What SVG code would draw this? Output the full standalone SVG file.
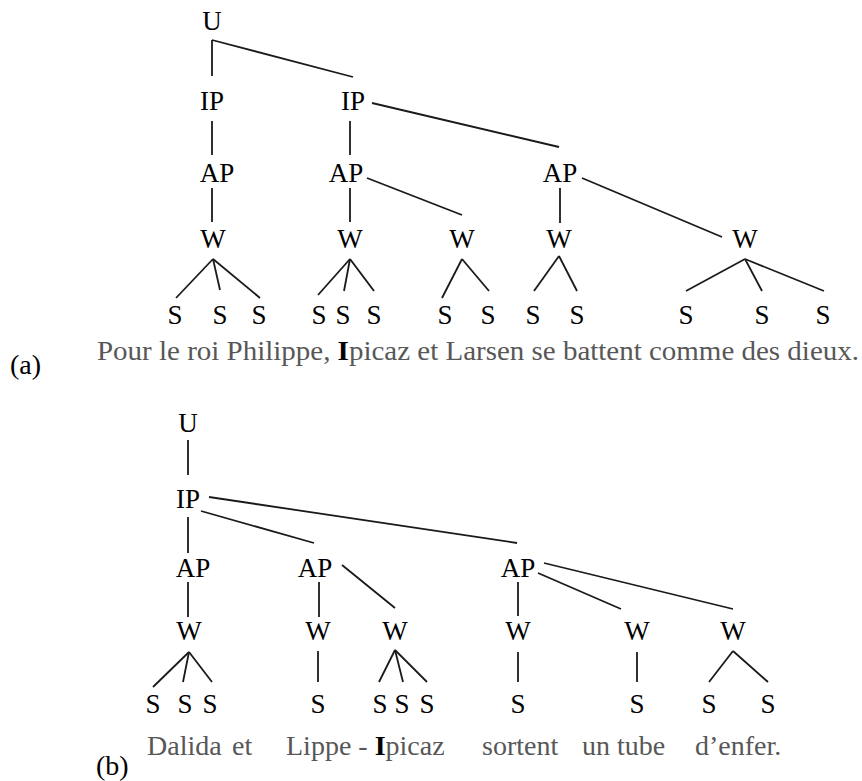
<svg xmlns="http://www.w3.org/2000/svg" width="862" height="781" viewBox="0 0 862 781">
  <style>
    text { font-family: 'Liberation Serif', 'DejaVu Serif', 'Times New Roman', serif; }
    .lbl { font-size: 27px; fill: #000; text-anchor: middle; }
    .sent { font-size: 28px; fill: #575757; }
    .tag { font-size: 28px; fill: #000; }
    .b { font-weight: bold; fill: #000; }
    .edges line { stroke: #1a1a1a; stroke-width: 1.8; stroke-linecap: butt; }
  </style>
  <rect width="862" height="781" fill="#fff"/>

  <!-- Tree (a): prosodic structure -->
  <g id="tree-a">
    <g id="a-connectors" class="edges">
      <line x1="212" y1="40" x2="212" y2="76"/>
      <line x1="212" y1="40" x2="353" y2="77"/>
      <line x1="212" y1="121" x2="212" y2="155"/>
      <line x1="350" y1="121" x2="350" y2="155"/>
      <line x1="372" y1="103" x2="559" y2="147"/>
      <line x1="212" y1="188" x2="212" y2="222"/>
      <line x1="350" y1="188" x2="350" y2="222"/>
      <line x1="367" y1="178" x2="462" y2="215"/>
      <line x1="560" y1="188" x2="560" y2="223"/>
      <line x1="582" y1="178" x2="722" y2="237"/>
      <line x1="213" y1="259" x2="176" y2="298"/>
      <line x1="213" y1="259" x2="220" y2="290"/>
      <line x1="213" y1="259" x2="260" y2="298"/>
      <line x1="350" y1="259" x2="318" y2="295"/>
      <line x1="350" y1="259" x2="344" y2="291"/>
      <line x1="350" y1="259" x2="374" y2="291"/>
      <line x1="462" y1="259" x2="442" y2="298"/>
      <line x1="462" y1="259" x2="489" y2="291"/>
      <line x1="559" y1="256" x2="534" y2="291"/>
      <line x1="559" y1="256" x2="577" y2="291"/>
      <line x1="745" y1="259" x2="686" y2="291"/>
      <line x1="745" y1="259" x2="762" y2="291"/>
      <line x1="745" y1="259" x2="824" y2="291"/>
    </g>
    <g id="a-U"><text class="lbl" x="212" y="30">U</text></g>
    <g id="a-IP1"><text class="lbl" x="212" y="110">IP</text></g>
    <g id="a-IP2"><text class="lbl" x="353" y="110">IP</text></g>
    <g id="a-AP1"><text class="lbl" x="217" y="182">AP</text></g>
    <g id="a-AP2"><text class="lbl" x="346" y="182">AP</text></g>
    <g id="a-AP3"><text class="lbl" x="560" y="182">AP</text></g>
    <g id="a-W1"><text class="lbl" x="213" y="248">W</text></g>
    <g id="a-W2"><text class="lbl" x="350" y="248">W</text></g>
    <g id="a-W3"><text class="lbl" x="462" y="248">W</text></g>
    <g id="a-W4"><text class="lbl" x="559" y="248">W</text></g>
    <g id="a-W5"><text class="lbl" x="745" y="248">W</text></g>
    <g id="a-S1"><text class="lbl" x="175" y="324">S</text></g>
    <g id="a-S2"><text class="lbl" x="220" y="324">S</text></g>
    <g id="a-S3"><text class="lbl" x="259" y="324">S</text></g>
    <g id="a-S4"><text class="lbl" x="319" y="324">S</text></g>
    <g id="a-S5"><text class="lbl" x="343" y="324">S</text></g>
    <g id="a-S6"><text class="lbl" x="374" y="324">S</text></g>
    <g id="a-S7"><text class="lbl" x="445" y="324">S</text></g>
    <g id="a-S8"><text class="lbl" x="488" y="324">S</text></g>
    <g id="a-S9"><text class="lbl" x="533" y="324">S</text></g>
    <g id="a-S10"><text class="lbl" x="577" y="324">S</text></g>
    <g id="a-S11"><text class="lbl" x="686" y="324">S</text></g>
    <g id="a-S12"><text class="lbl" x="762" y="324">S</text></g>
    <g id="a-S13"><text class="lbl" x="823" y="324">S</text></g>
    <text class="sent" x="97" y="360" textLength="762" lengthAdjust="spacingAndGlyphs">Pour le roi Philippe, <tspan class="b">I</tspan>picaz et Larsen se battent comme des dieux.</text>
    <text class="tag" x="10" y="374">(a)</text>
  </g>

  <!-- Tree (b): prosodic structure -->
  <g id="tree-b">
    <g id="b-connectors" class="edges">
      <line x1="188" y1="440" x2="188" y2="475"/>
      <line x1="188" y1="517" x2="188" y2="553"/>
      <line x1="201" y1="511" x2="314" y2="543"/>
      <line x1="209" y1="497" x2="517" y2="543"/>
      <line x1="188" y1="582" x2="188" y2="617"/>
      <line x1="319" y1="582" x2="319" y2="617"/>
      <line x1="342" y1="565" x2="395" y2="608"/>
      <line x1="518" y1="582" x2="518" y2="616"/>
      <line x1="538" y1="573" x2="621" y2="609"/>
      <line x1="544" y1="563" x2="733" y2="609"/>
      <line x1="189" y1="652" x2="153" y2="687"/>
      <line x1="189" y1="652" x2="183" y2="682"/>
      <line x1="189" y1="652" x2="212" y2="682"/>
      <line x1="318" y1="651" x2="318" y2="682"/>
      <line x1="395" y1="650" x2="379" y2="682"/>
      <line x1="395" y1="650" x2="403" y2="682"/>
      <line x1="395" y1="650" x2="427" y2="682"/>
      <line x1="518" y1="652" x2="518" y2="682"/>
      <line x1="637" y1="652" x2="637" y2="682"/>
      <line x1="733" y1="651" x2="709" y2="682"/>
      <line x1="733" y1="651" x2="768" y2="682"/>
    </g>
    <g id="b-U"><text class="lbl" x="188" y="432">U</text></g>
    <g id="b-IP"><text class="lbl" x="188" y="508">IP</text></g>
    <g id="b-AP1"><text class="lbl" x="193" y="577">AP</text></g>
    <g id="b-AP2"><text class="lbl" x="315" y="577">AP</text></g>
    <g id="b-AP3"><text class="lbl" x="518" y="577">AP</text></g>
    <g id="b-W1"><text class="lbl" x="189" y="640">W</text></g>
    <g id="b-W2"><text class="lbl" x="318" y="640">W</text></g>
    <g id="b-W3"><text class="lbl" x="395" y="640">W</text></g>
    <g id="b-W4"><text class="lbl" x="518" y="640">W</text></g>
    <g id="b-W5"><text class="lbl" x="637" y="640">W</text></g>
    <g id="b-W6"><text class="lbl" x="733" y="640">W</text></g>
    <g id="b-S1"><text class="lbl" x="153" y="713">S</text></g>
    <g id="b-S2"><text class="lbl" x="185" y="713">S</text></g>
    <g id="b-S3"><text class="lbl" x="210" y="713">S</text></g>
    <g id="b-S4"><text class="lbl" x="318" y="713">S</text></g>
    <g id="b-S5"><text class="lbl" x="380" y="713">S</text></g>
    <g id="b-S6"><text class="lbl" x="402" y="713">S</text></g>
    <g id="b-S7"><text class="lbl" x="427" y="713">S</text></g>
    <g id="b-S8"><text class="lbl" x="518" y="713">S</text></g>
    <g id="b-S9"><text class="lbl" x="637" y="713">S</text></g>
    <g id="b-S10"><text class="lbl" x="709" y="713">S</text></g>
    <g id="b-S11"><text class="lbl" x="768" y="713">S</text></g>
    <text class="sent" x="147" y="755">Dalida</text>
    <text class="sent" x="232" y="755">et</text>
    <text class="sent" x="286" y="755">Lippe - <tspan class="b">I</tspan>picaz</text>
    <text class="sent" x="482" y="755">sortent</text>
    <text class="sent" x="582" y="755">un tube</text>
    <text class="sent" x="695" y="755">d’enfer.</text>
    <text class="tag" x="96" y="775">(b)</text>
  </g>
</svg>
